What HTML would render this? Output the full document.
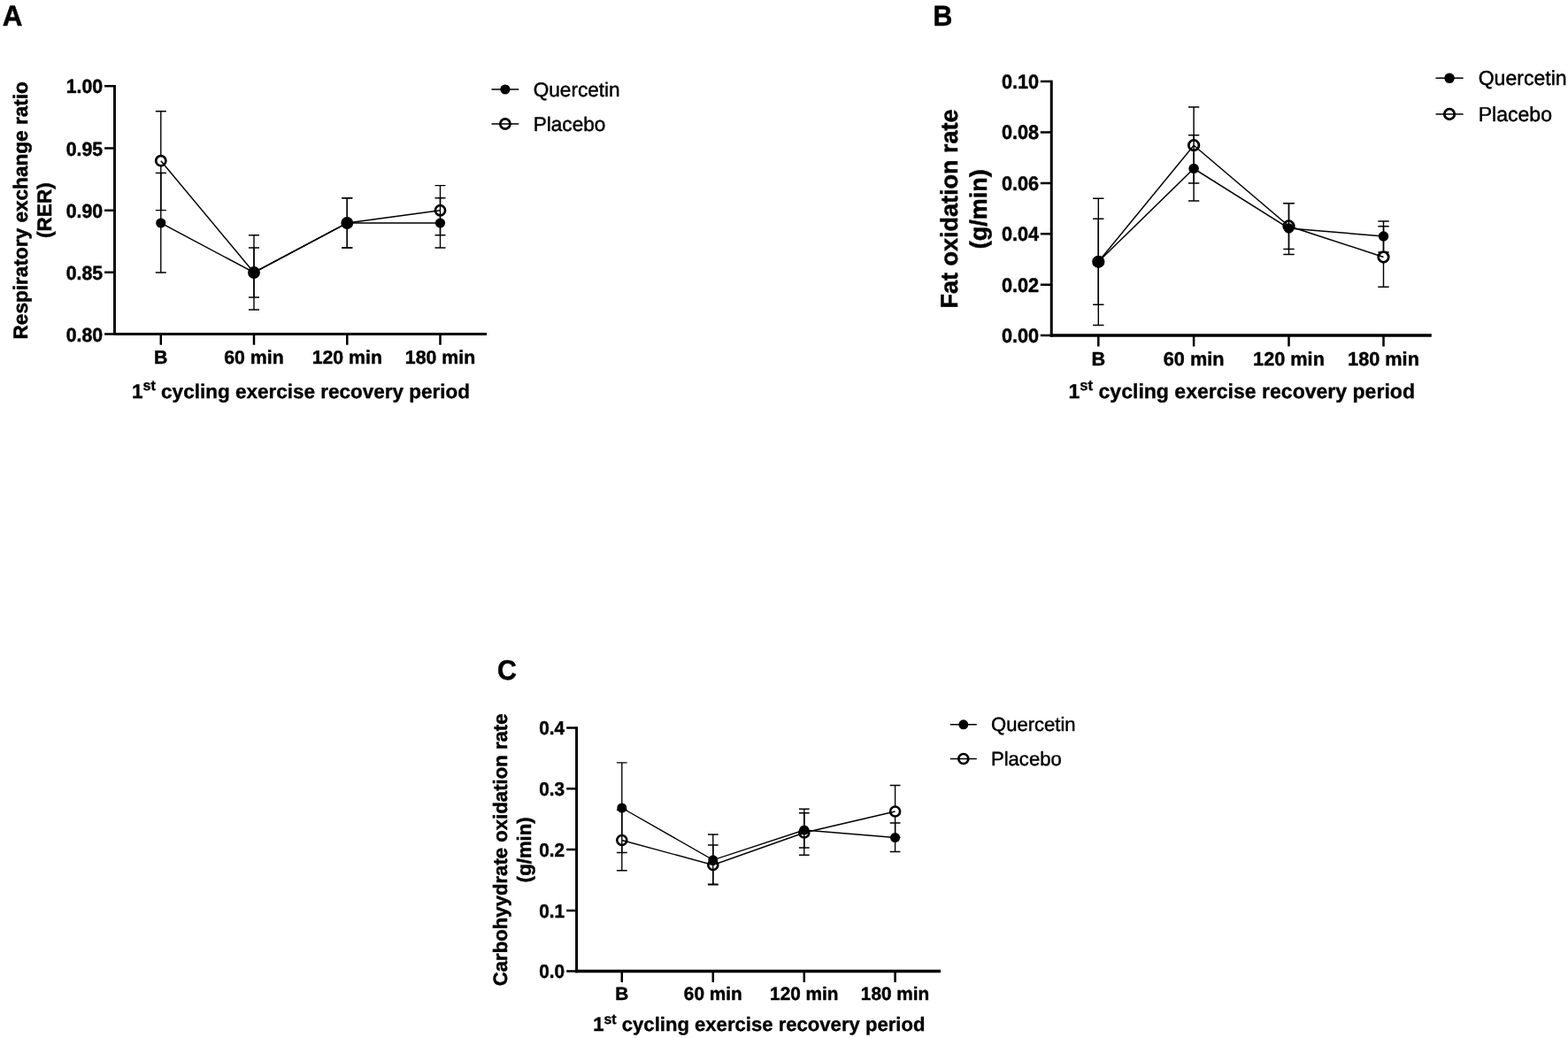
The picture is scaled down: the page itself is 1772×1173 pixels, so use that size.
<!DOCTYPE html>
<html lang="en">
<head>
<meta charset="utf-8">
<title>Respiratory exchange ratio, fat and carbohydrate oxidation rate during recovery</title>
<style>
html,body{margin:0;padding:0;background:#fff;}
body{width:1772px;height:1173px;overflow:hidden;}
svg{display:block;}
text{font-family:'Liberation Sans', Arial, Helvetica, sans-serif;fill:#000;stroke:#000;stroke-width:0.45px;stroke-linejoin:round;}
.b{font-weight:700;stroke-width:0.35px;}
.yl{stroke-width:0.5px;}
.pl{stroke-width:0.5px;}
</style>
</head>
<body>
<svg width="1772" height="1173" viewBox="0 0 1772 1173" text-rendering="geometricPrecision">
<rect width="1772" height="1173" fill="#fff"/>
<g class="panel" id="panel-A">
<text class="b pl" transform="translate(2.7 28.9) scale(1 1.04)" font-size="31.4">A</text>
<g class="axes" stroke="#000" fill="none" stroke-linecap="butt">
<path stroke-width="2.9" d="M129.5 96.05V379.1"/>
<path stroke-width="3.2" d="M128.05 377.5H550"/>
<path stroke-width="2.5" d="M118.1 377.5H129.5M118.1 307.8H129.5M118.1 237.7H129.5M118.1 167.4H129.5M118.1 97.3H129.5M181.8 377.5V389.7M287 377.5V389.7M392.3 377.5V389.7M497.5 377.5V389.7"/>
</g>
<g class="b" font-size="21.3">
<g text-anchor="end">
<text transform="translate(116.2 385.6) scale(1 1.035)">0.80</text>
<text transform="translate(116.2 315.9) scale(1 1.035)">0.85</text>
<text transform="translate(116.2 245.8) scale(1 1.035)">0.90</text>
<text transform="translate(116.2 175.5) scale(1 1.035)">0.95</text>
<text transform="translate(116.2 105.4) scale(1 1.035)">1.00</text>
</g>
<g text-anchor="middle">
<text x="181.8" y="410.9">B</text>
<text x="287" y="410.9">60 min</text>
<text x="392.3" y="410.9">120 min</text>
<text x="497.5" y="410.9">180 min</text>
</g>
</g>
<text class="b" text-anchor="middle" x="340" y="449.8" font-size="22.5">1<tspan font-size="16.2" dy="-8.55">st</tspan><tspan dy="8.55"> cycling exercise recovery period</tspan></text>
<text class="b yl" text-anchor="middle" font-size="22.6" transform="translate(30.7 237.8) rotate(-90)">Respiratory exchange ratio</text>
<text class="b yl" text-anchor="middle" font-size="22.6" transform="translate(58.4 237.6) rotate(-90)">(RER)</text>
<g class="series placebo" stroke="#000" stroke-width="1.45">
<path fill="none" stroke-width="1.4" d="M181.8 125.7V237.6M175.8 125.7H187.8M175.8 237.6H187.8M287 280V336M281 280H293M281 336H293M392.3 223.8V280M386.3 223.8H398.3M386.3 280H398.3M497.5 209.6V265.8M491.5 209.6H503.5M491.5 265.8H503.5"/>
<circle cx="181.8" cy="181.7" r="5.6" fill="#fff" stroke-width="2.7"/>
<circle cx="287" cy="308" r="5.6" fill="#fff" stroke-width="2.7"/>
<circle cx="392.3" cy="252" r="5.6" fill="#fff" stroke-width="2.7"/>
<circle cx="497.5" cy="237.8" r="5.6" fill="#fff" stroke-width="2.7"/>
<polyline fill="none" points="181.8,181.7 287,308 392.3,252 497.5,237.8"/>
</g>
<g class="series quercetin" stroke="#000" stroke-width="1.45">
<path fill="none" stroke-width="1.4" d="M181.8 195.5V308M175.8 195.5H187.8M175.8 308H187.8M287 265.8V350M281 265.8H293M281 350H293M392.3 223.8V280M386.3 223.8H398.3M386.3 280H398.3M497.5 223.8V280M491.5 223.8H503.5M491.5 280H503.5"/>
<circle cx="181.8" cy="252" r="5.6" fill="#000" stroke="none"/>
<circle cx="287" cy="308" r="5.6" fill="#000" stroke="none"/>
<circle cx="392.3" cy="252" r="5.6" fill="#000" stroke="none"/>
<circle cx="497.5" cy="252" r="5.6" fill="#000" stroke="none"/>
<polyline fill="none" points="181.8,252 287,308 392.3,252 497.5,252"/>
</g>
<g class="legend" stroke="#000" stroke-width="1.45">
<circle cx="570.9" cy="101" r="5.6" fill="#000" stroke="none"/>
<circle cx="570.9" cy="140" r="5.6" fill="#fff" stroke-width="2.7"/>
<path d="M555.5 101H586.3M555.5 140H586.3"/>
</g>
<text x="602.7" y="109.1" font-size="22.6">Quercetin</text>
<text x="602.7" y="148.1" font-size="22.6">Placebo</text>
</g>
<g class="panel" id="panel-B">
<text class="b pl" transform="translate(1054.5 28.8) scale(1 1.07)" font-size="30.2">B</text>
<g class="axes" stroke="#000" fill="none" stroke-linecap="butt">
<path stroke-width="3" d="M1188.25 90.85V380.65"/>
<path stroke-width="3.3" d="M1186.75 379H1617.8"/>
<path stroke-width="2.5" d="M1175.85 379H1188.25M1175.85 321.7H1188.25M1175.85 264.3H1188.25M1175.85 207H1188.25M1175.85 149.5H1188.25M1175.85 92.1H1188.25M1241.3 379V391.4M1349.1 379V391.4M1456.5 379V391.4M1563.5 379V391.4"/>
</g>
<g class="b" font-size="21.7">
<g text-anchor="end">
<text transform="translate(1174.15 386.8) scale(1 1.035)">0.00</text>
<text transform="translate(1174.15 329.5) scale(1 1.035)">0.02</text>
<text transform="translate(1174.15 272.1) scale(1 1.035)">0.04</text>
<text transform="translate(1174.15 214.8) scale(1 1.035)">0.06</text>
<text transform="translate(1174.15 157.3) scale(1 1.035)">0.08</text>
<text transform="translate(1174.15 99.9) scale(1 1.035)">0.10</text>
</g>
<g text-anchor="middle">
<text x="1241.3" y="413">B</text>
<text x="1349.1" y="413">60 min</text>
<text x="1456.5" y="413">120 min</text>
<text x="1563.5" y="413">180 min</text>
</g>
</g>
<text class="b" text-anchor="middle" x="1403.25" y="449.9" font-size="23.05">1<tspan font-size="16.6" dy="-8.76">st</tspan><tspan dy="8.76"> cycling exercise recovery period</tspan></text>
<text class="b yl" text-anchor="middle" font-size="27" transform="translate(1081.9 235.9) rotate(-90)">Fat oxidation rate</text>
<text class="b yl" text-anchor="middle" font-size="27" transform="translate(1114.9 236.35) rotate(-90)">(g/min)</text>
<g class="series placebo" stroke="#000" stroke-width="1.49">
<path fill="none" stroke-width="1.44" d="M1241.3 247.3V344.3M1235.12 247.3H1247.48M1235.12 344.3H1247.48M1349.1 121V207M1342.92 121H1355.28M1342.92 207H1355.28M1456.5 229.8V281.5M1450.32 229.8H1462.68M1450.32 281.5H1462.68M1563.5 255.8V324.3M1557.32 255.8H1569.68M1557.32 324.3H1569.68"/>
<circle cx="1241.3" cy="295.8" r="5.77" fill="#fff" stroke-width="2.78"/>
<circle cx="1349.1" cy="164.2" r="5.77" fill="#fff" stroke-width="2.78"/>
<circle cx="1456.5" cy="255.5" r="5.77" fill="#fff" stroke-width="2.78"/>
<circle cx="1563.5" cy="290.5" r="5.77" fill="#fff" stroke-width="2.78"/>
<polyline fill="none" points="1241.3,295.8 1349.1,164.2 1456.5,255.5 1563.5,290.5"/>
</g>
<g class="series quercetin" stroke="#000" stroke-width="1.49">
<path fill="none" stroke-width="1.44" d="M1241.3 224.3V367.5M1235.12 224.3H1247.48M1235.12 367.5H1247.48M1349.1 152.8V227M1342.92 152.8H1355.28M1342.92 227H1355.28M1456.5 229.6V287.5M1450.32 229.6H1462.68M1450.32 287.5H1462.68M1563.5 250V285M1557.32 250H1569.68M1557.32 285H1569.68"/>
<circle cx="1241.3" cy="295.8" r="5.77" fill="#000" stroke="none"/>
<circle cx="1349.1" cy="190.5" r="5.77" fill="#000" stroke="none"/>
<circle cx="1456.5" cy="258" r="5.77" fill="#000" stroke="none"/>
<circle cx="1563.5" cy="267" r="5.77" fill="#000" stroke="none"/>
<polyline fill="none" points="1241.3,295.8 1349.1,190.5 1456.5,258 1563.5,267"/>
</g>
<g class="legend" stroke="#000" stroke-width="1.49">
<circle cx="1638.05" cy="88.3" r="5.77" fill="#000" stroke="none"/>
<circle cx="1638.05" cy="129" r="5.77" fill="#fff" stroke-width="2.78"/>
<path d="M1622.5 88.3H1653.6M1622.5 129H1653.6"/>
</g>
<text x="1670.7" y="96.2" font-size="23.05">Quercetin</text>
<text x="1670.7" y="136.9" font-size="23.05">Placebo</text>
</g>
<g class="panel" id="panel-C">
<text class="b pl" transform="translate(562 768.1) scale(1 1.04)" font-size="30.3">C</text>
<g class="axes" stroke="#000" fill="none" stroke-linecap="butt">
<path stroke-width="3" d="M651.6 821.25V1099.15"/>
<path stroke-width="3.3" d="M650.1 1097.5H1063"/>
<path stroke-width="2.5" d="M640.2 1097.5H651.6M640.2 1029H651.6M640.2 960H651.6M640.2 891.3H651.6M640.2 822.5H651.6M702.8 1097.5V1109.9M805.8 1097.5V1109.9M908.8 1097.5V1109.9M1011.6 1097.5V1109.9"/>
</g>
<g class="b" font-size="20.8">
<g text-anchor="end">
<text transform="translate(638.1 1105.4) scale(1 1.035)">0.0</text>
<text transform="translate(638.1 1036.9) scale(1 1.035)">0.1</text>
<text transform="translate(638.1 967.9) scale(1 1.035)">0.2</text>
<text transform="translate(638.1 899.2) scale(1 1.035)">0.3</text>
<text transform="translate(638.1 830.4) scale(1 1.035)">0.4</text>
</g>
<g text-anchor="middle">
<text x="702.8" y="1130">B</text>
<text x="805.8" y="1130">60 min</text>
<text x="908.8" y="1130">120 min</text>
<text x="1011.6" y="1130">180 min</text>
</g>
</g>
<text class="b" text-anchor="middle" x="857.8" y="1165.2" font-size="22.1">1<tspan font-size="15.91" dy="-8.4">st</tspan><tspan dy="8.4"> cycling exercise recovery period</tspan></text>
<text class="b yl" text-anchor="middle" font-size="22.17" transform="translate(573.1 960.35) rotate(-90)">Carbohyydrate oxidation rate</text>
<text class="b yl" text-anchor="middle" font-size="22.17" transform="translate(600.2 960.25) rotate(-90)">(g/min)</text>
<g class="series placebo" stroke="#000" stroke-width="1.42">
<path fill="none" stroke-width="1.37" d="M702.8 915.3V983.8M696.92 915.3H708.68M696.92 983.8H708.68M805.8 955V999.2M799.92 955H811.68M799.92 999.2H811.68M908.8 914.3V966.3M902.92 914.3H914.68M902.92 966.3H914.68M1011.6 887.5V946.5M1005.72 887.5H1017.48M1005.72 946.5H1017.48"/>
<circle cx="702.8" cy="949.5" r="5.49" fill="#fff" stroke-width="2.65"/>
<circle cx="805.8" cy="977.5" r="5.49" fill="#fff" stroke-width="2.65"/>
<circle cx="908.8" cy="941" r="5.49" fill="#fff" stroke-width="2.65"/>
<circle cx="1011.6" cy="917" r="5.49" fill="#fff" stroke-width="2.65"/>
<polyline fill="none" points="702.8,949.5 805.8,977.5 908.8,941 1011.6,917"/>
</g>
<g class="series quercetin" stroke="#000" stroke-width="1.42">
<path fill="none" stroke-width="1.37" d="M702.8 861.9V963.5M696.92 861.9H708.68M696.92 963.5H708.68M805.8 943V999.9M799.92 943H811.68M799.92 999.9H811.68M908.8 918.8V958M902.92 918.8H914.68M902.92 958H914.68M1011.6 930V962.5M1005.72 930H1017.48M1005.72 962.5H1017.48"/>
<circle cx="702.8" cy="913" r="5.49" fill="#000" stroke="none"/>
<circle cx="805.8" cy="971.8" r="5.49" fill="#000" stroke="none"/>
<circle cx="908.8" cy="938" r="5.49" fill="#000" stroke="none"/>
<circle cx="1011.6" cy="946.5" r="5.49" fill="#000" stroke="none"/>
<polyline fill="none" points="702.8,913 805.8,971.8 908.8,938 1011.6,946.5"/>
</g>
<g class="legend" stroke="#000" stroke-width="1.42">
<circle cx="1088.8" cy="818.8" r="5.49" fill="#000" stroke="none"/>
<circle cx="1088.8" cy="857.5" r="5.49" fill="#fff" stroke-width="2.65"/>
<path d="M1073.8 818.8H1103.8M1073.8 857.5H1103.8"/>
</g>
<text x="1120" y="826" font-size="22.05">Quercetin</text>
<text x="1120" y="864.7" font-size="22.05">Placebo</text>
</g>
</svg>
</body>
</html>
